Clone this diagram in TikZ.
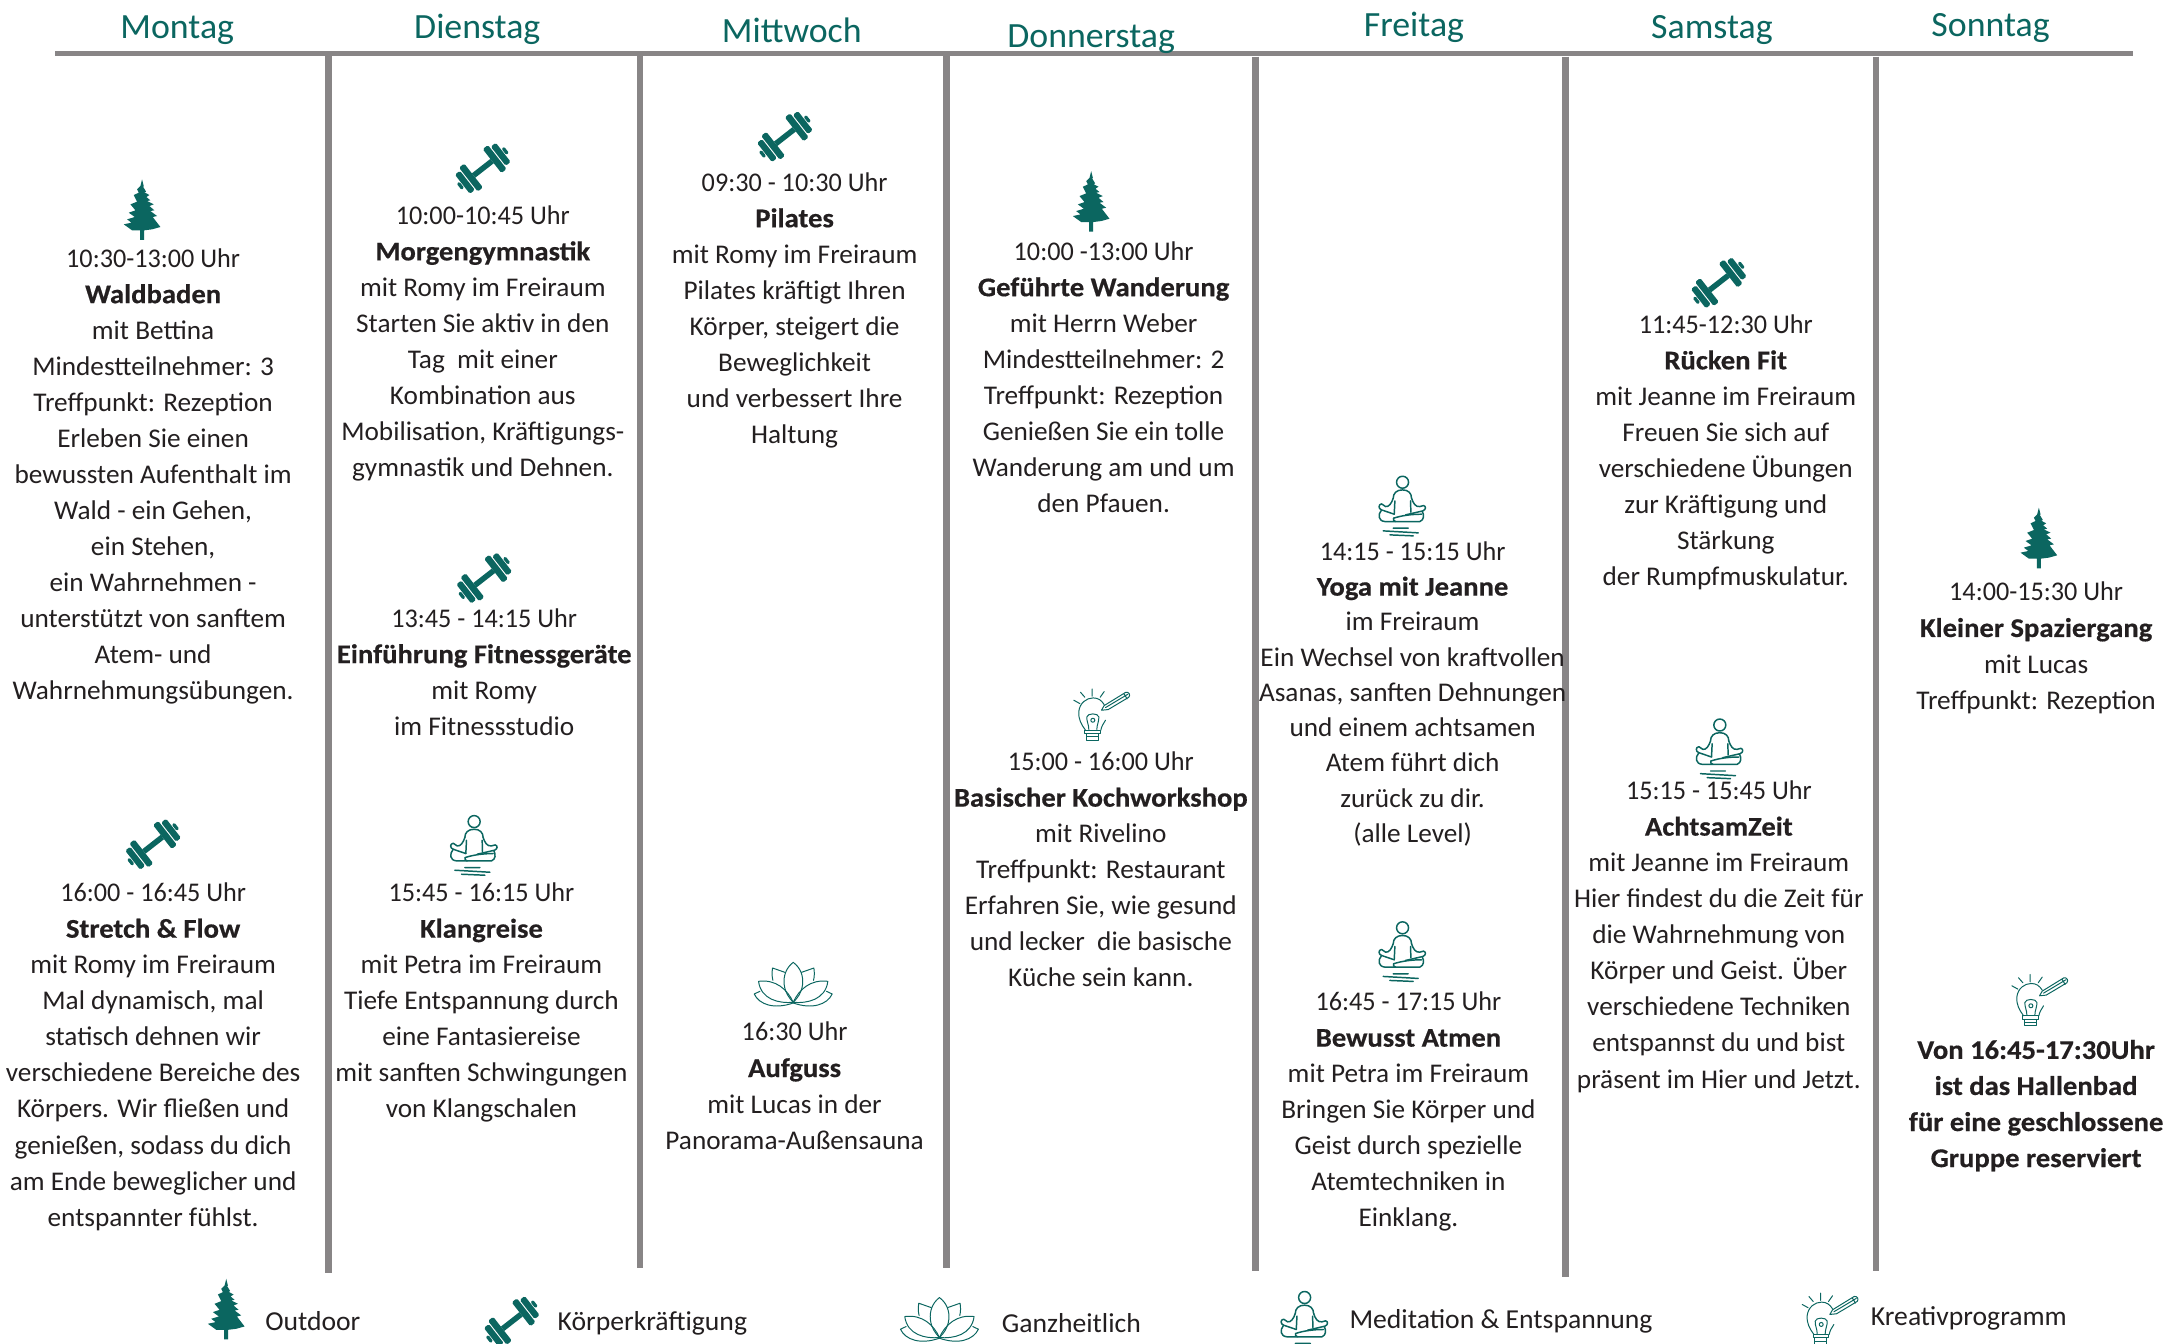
\documentclass[tikz,border=0pt]{standalone}
\usepackage{fontspec}
\setmainfont{Carlito}[FakeStretch=1.01,BoldFeatures={FakeStretch=1.06,FakeBold=0.5}]
\newfontfamily\timefont{Carlito}[FakeStretch=.97]
\definecolor{teal1}{HTML}{0B6660}
\definecolor{ink}{HTML}{231F20}
\definecolor{rule1}{HTML}{888586}
\newcommand{\blk}[6][18.3]{\node[body,font=\fontsize{13.7}{#1}\selectfont] (#2) at (#3,#4-12) {\strut{\timefont #5}\\#6};}
\tikzset{
  body/.style={anchor=north,inner sep=0pt,align=center,text=ink},
  dayname/.style={anchor=base,inner sep=0pt,text=teal1,font=\fontsize{18}{20}\selectfont},
  legendtext/.style={anchor=west,inner sep=0pt,text=ink,font=\fontsize{13.9}{18}\selectfont},
  rulev/.style={draw=rule1,line width=3.3pt},
  ruleh/.style={draw=rule1,line width=2.5pt},
  icon/.style={draw=teal1,line width=.75pt,line cap=round,line join=round,fill=none},
  iconthin/.style={draw=teal1,line width=.5pt,line cap=round,line join=round,fill=none},
  treeicon/.pic={\begin{scope}[scale=.2415,shift={(-100,-116)}]
    \fill[teal1] (100,25)--(105,45)--(103,47)--(112,62)--(107,64)--(122,72)--(113,78)--(125,88)--(115,90)--(135,100)--(122,105)--(137,118)--(125,120)--(145,135)--(132,138)--(155,168)--(130,175)--(106,178)--(106,207)--(94,207)--(94,178)--(70,178)--(45,160)--(68,155)--(55,145)--(78,138)--(60,125)--(80,118)--(65,100)--(85,92)--(75,72)--(90,65)--(85,55)--(95,45)--cycle;
  \end{scope}},
  dumbbellicon/.pic={\begin{scope}[rotate=38]
    \fill[teal1] (-8.5,-2) rectangle (8.5,2);
    \foreach \s in {-1,1}{
      \fill[teal1,rounded corners=.8pt] (\s*8.5,-11) rectangle (\s*13.3,11);
      \fill[teal1,rounded corners=.8pt] (\s*14.2,-8.8) rectangle (\s*18.8,8.8);
      \fill[teal1,rounded corners=.6pt] (\s*19.4,-2.8) rectangle (\s*21.8,2.8);
    }
  \end{scope}},
  meditateicon/.pic={\begin{scope}[scale=.2415,shift={(-110,-120)}]
    \draw[icon] (113,52) circle (18);
    \draw[icon] (85,100) .. controls (85,85) and (95,75) .. (113,75) .. controls (130,75) and (140,85) .. (140,100);
    \draw[icon] (85,100) .. controls (80,115) and (72,127) .. (62,125) -- (50,117) .. controls (40,118) and (40,132) .. (50,135) -- (88,148);
    \draw[icon] (140,100) .. controls (145,115) and (152,127) .. (165,125) -- (176,122) .. controls (184,124) and (184,134) .. (174,138) -- (122,150);
    \draw[icon] (90,108) -- (88,148) (137,108) -- (138,142);
    \draw[icon] (50,135) .. controls (38,150) and (40,168) .. (60,170) -- (165,170) .. controls (178,165) and (178,150) .. (172,139);
    \draw[icon] (86,160) .. controls (110,152) and (140,148) .. (170,148);
    \draw[icon] (86,160) .. controls (84,165) and (86,168) .. (92,170);
    \draw[icon] (85,190) -- (130,190) (55,198) -- (160,204) (75,210) -- (145,213);
  \end{scope}},
  lotusicon/.pic={\begin{scope}[scale=.2415,shift={(-142,-90)}]
    \draw[iconthin] (142,18) .. controls (120,35) and (112,60) .. (115,85) .. controls (118,110) and (130,125) .. (142,138) .. controls (155,125) and (167,110) .. (170,85) .. controls (173,60) and (165,35) .. (142,18);
    \foreach \m in {1,-1}{
      \begin{scope}[shift={(142,0)},xscale=\m,shift={(-142,0)}]
        \draw[iconthin] (117,48) -- (80,35) .. controls (78,48) and (78,60) .. (81,72);
        \draw[iconthin] (38,75) .. controls (90,68) and (125,100) .. (142,138) .. controls (100,142) and (45,130) .. (38,75);
        \draw[iconthin] (42,105) -- (25,113) .. controls (40,145) and (85,160) .. (142,140);
      \end{scope}}
  \end{scope}},
  bulbicon/.pic={\begin{scope}[scale=.2415,shift={(-108,-105)}]
    \draw[iconthin] (62,152) .. controls (50,135) and (40,120) .. (42,95) .. controls (45,70) and (65,55) .. (85,55) .. controls (100,55) and (110,62) .. (118,75);
    \draw[iconthin] (108,152) .. controls (110,140) and (116,132) .. (122,122);
    \draw[iconthin] (72,150) .. controls (72,135) and (65,125) .. (66,112) .. controls (68,100) and (100,100) .. (102,112) .. controls (103,125) and (96,135) .. (96,150);
    \draw[iconthin] (84,122) circle (6);
    \draw[iconthin] (60,152) rectangle (106,162) (65,162) rectangle (101,172) (65,172) rectangle (101,182);
    \draw[iconthin] (82,28) -- (82,50) (47,38) -- (60,53) (118,36) -- (106,53) (27,62) -- (45,72);
    \draw[iconthin] (118,78) -- (183,38) .. controls (192,36) and (198,46) .. (192,53) -- (130,90) -- (110,92) -- cycle (122,84) -- (189,44) (177,42) -- (187,58);
  \end{scope}},
}
\begin{document}
\begin{tikzpicture}[x=.7pt,y=-.7pt]
\useasboundingbox[fill=white] (0,0) rectangle (1568,973.6);
% rules
\foreach \xx/\ya/\yb in {238/38/923,464/38/919,686/40/919,910/41/921,1135/41/926,1360/41/921}
  \draw[rulev] (\xx,\ya) -- (\xx,\yb);
\draw[ruleh] (40,38.7) -- (1546,38.7);
% day names
\node[dayname] (mo) at (128.5,28) {Montag};
\node[dayname] (di) at (346,28) {Dienstag};
\node[dayname] (mi) at (574,30.5) {Mittwoch};
\node[dayname] (do) at (791,34.5) {Donnerstag};
\node[dayname] (fr) at (1025,26.5) {Freitag};
\node[dayname] (sa) at (1241,28) {Samstag};
\node[dayname] (so) at (1443,26.5) {Sonntag};
% Montag
\pic at (103,152) {treeicon};
\blk{moa}{111}{187}{10:30-13:00 Uhr}{\textbf{Waldbaden}\\mit Bettina\\Mindestteilnehmer: 3\\Treffpunkt: Rezeption\\Erleben Sie einen\\bewussten Aufenthalt im\\Wald - ein Gehen,\\ein Stehen,\\ein Wahrnehmen -\\unterstützt von sanftem\\Atem- und\\Wahrnehmungsübungen.}
\pic at (111,612) {dumbbellicon};
\blk{mob}{111}{647}{16:00 - 16:45 Uhr}{\textbf{Stretch \& Flow}\\mit Romy im Freiraum\\Mal dynamisch, mal\\statisch dehnen wir\\verschiedene Bereiche des\\Körpers. Wir fließen und\\genießen, sodass du dich\\am Ende beweglicher und\\entspannter fühlst.}
% Dienstag
\pic at (350,122) {dumbbellicon};
\blk{dia}{350}{156}{10:00-10:45 Uhr}{\textbf{Morgengymnastik}\\mit Romy im Freiraum\\Starten Sie aktiv in den\\Tag~ mit einer\\Kombination aus\\Mobilisation, Kräftigungs-\\gymnastik und Dehnen.}
\pic at (351,419) {dumbbellicon};
\blk{dib}{351}{448}{13:45 - 14:15 Uhr}{\textbf{Einführung Fitnessgeräte}\\mit Romy\\im Fitnessstudio}
\pic at (343,612) {meditateicon};
\blk{dic}{349}{647}{15:45 - 16:15 Uhr}{\textbf{Klangreise}\\mit Petra im Freiraum\\Tiefe Entspannung durch\\eine Fantasiereise\\mit sanften Schwingungen\\von Klangschalen}
% Mittwoch
\pic at (569,99) {dumbbellicon};
\blk{mia}{576}{132}{09:30 - 10:30 Uhr}{\textbf{Pilates}\\mit Romy im Freiraum\\Pilates kräftigt Ihren\\Körper, steigert die\\Beweglichkeit\\und verbessert Ihre\\Haltung}
\pic at (575,715) {lotusicon};
\blk{mib}{576}{748}{16:30 Uhr}{\textbf{Aufguss}\\mit Lucas in der\\Panorama-Außensauna}
% Donnerstag
\pic at (791,146) {treeicon};
\blk{doa}{800}{182}{10:00 -13:00 Uhr}{\textbf{Geführte Wanderung}\\mit Herrn Weber\\Mindestteilnehmer: 2\\Treffpunkt: Rezeption\\Genießen Sie ein tolle\\Wanderung am und um\\den Pfauen.}
\pic at (798,518) {bulbicon};
\blk{dob}{798}{552}{15:00 - 16:00 Uhr}{\textbf{Basischer Kochworkshop}\\mit Rivelino\\Treffpunkt: Restaurant\\Erfahren Sie, wie gesund\\und lecker~ die basische\\Küche sein kann.}
% Freitag
\pic at (1016,366) {meditateicon};
\blk[17.9]{fra}{1024}{400}{14:15 - 15:15 Uhr}{\textbf{Yoga mit Jeanne}\\im Freiraum\\Ein Wechsel von kraftvollen\\Asanas, sanften Dehnungen\\und einem achtsamen\\Atem führt dich\\zurück zu dir.\\(alle Level)}
\pic at (1016,689) {meditateicon};
\blk{frb}{1021}{726}{16:45 - 17:15 Uhr}{\textbf{Bewusst Atmen}\\mit Petra im Freiraum\\Bringen Sie Körper und\\Geist durch spezielle\\Atemtechniken in\\Einklang.}
% Samstag
\pic at (1246,205) {dumbbellicon};
\blk{saa}{1251}{235}{11:45-12:30 Uhr}{\textbf{Rücken Fit}\\mit Jeanne im Freiraum\\Freuen Sie sich auf\\verschiedene Übungen\\zur Kräftigung und\\Stärkung\\der Rumpfmuskulatur.}
\pic at (1246,542) {meditateicon};
\blk{sab}{1246}{573}{15:15 - 15:45 Uhr}{\textbf{AchtsamZeit}\\mit Jeanne im Freiraum\\Hier findest du die Zeit für\\die Wahrnehmung von\\Körper und Geist. Über\\verschiedene Techniken\\entspannst du und bist\\präsent im Hier und Jetzt.}
% Sonntag
\pic at (1478,390) {treeicon};
\blk{soa}{1476}{429}{14:00-15:30 Uhr}{\textbf{Kleiner Spaziergang}\\mit Lucas\\Treffpunkt: Rezeption}
\pic at (1478,725) {bulbicon};
\node[body,font=\fontsize{13.7}{18.3}\selectfont] (sob) at (1476,749) {\strut\textbf{Von 16:45-17:30Uhr}\\\textbf{ist das Hallenbad}\\\textbf{für eine geschlossene}\\\textbf{Gruppe reserviert}};
% legend
\pic at (164,949) {treeicon};
\node[legendtext] (l1) at (192,958) {Outdoor};
\pic at (371,958) {dumbbellicon};
\node[legendtext] (l2) at (404,959) {Körperkräftigung};
\pic at (681,958) {lotusicon};
\node[legendtext] (l3) at (726,959) {Ganzheitlich};
\pic at (945,957) {meditateicon};
\node[legendtext] (l4) at (978,958) {Meditation \& Entspannung};
\pic at (1326,956) {bulbicon};
\node[legendtext] (l5) at (1356,956) {Kreativprogramm};
\end{tikzpicture}
\end{document}
